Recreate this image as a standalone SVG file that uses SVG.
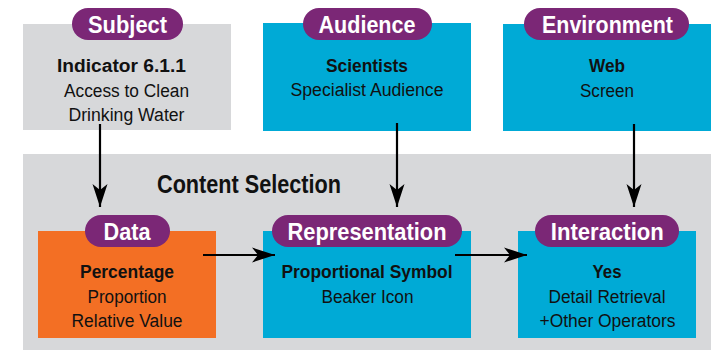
<svg xmlns="http://www.w3.org/2000/svg" width="716" height="350" viewBox="0 0 716 350">
<defs>
<style>
text{font-family:"Liberation Sans",Arial,sans-serif;text-anchor:middle;fill:#111}
.gray{fill:#d7d8da}
.blue{fill:#00aad6}
.orange{fill:#f36f24}
.pill{fill:#7b2776}
.pl{font-size:24px;font-weight:bold;fill:#fff}
.b{font-size:18px;font-weight:bold}
.n{font-size:18px}
.t{font-size:25px;font-weight:bold}
.conn{stroke:#000;stroke-width:2.2;fill:none}
</style>
<marker id="ah" markerUnits="userSpaceOnUse" markerWidth="24" markerHeight="16" viewBox="0 -8 24 16" refX="23" refY="0" orient="auto">
<path d="M0,-7.5 L23,0 L0,7.5 L6,0 Z" fill="#000"/>
</marker>
</defs>
<rect x="0" y="0" width="716" height="350" fill="#fff"/>
<g id="content-selection">
<rect class="gray" x="23" y="154" width="688" height="196"/>
<text class="t" x="249" y="193" textLength="184" lengthAdjust="spacingAndGlyphs">Content Selection</text>
</g>
<g id="subject">
<rect class="gray" x="23" y="24" width="208" height="106"/>
<rect class="pill" x="72" y="8" width="111" height="32" rx="16"/>
<text class="pl" x="127.5" y="32.5" textLength="79" lengthAdjust="spacingAndGlyphs">Subject</text>
<text class="b" x="121.5" y="72" textLength="129" lengthAdjust="spacingAndGlyphs">Indicator 6.1.1</text>
<text class="n" x="126.5" y="96.5" textLength="125" lengthAdjust="spacingAndGlyphs">Access to Clean</text>
<text class="n" x="126.5" y="121" textLength="116" lengthAdjust="spacingAndGlyphs">Drinking Water</text>
</g>
<g id="audience">
<rect class="blue" x="263" y="23" width="208" height="108"/>
<rect class="pill" x="303" y="8" width="129" height="32" rx="16"/>
<text class="pl" x="367" y="32.5" textLength="97" lengthAdjust="spacingAndGlyphs">Audience</text>
<text class="b" x="367" y="72" textLength="82" lengthAdjust="spacingAndGlyphs">Scientists</text>
<text class="n" x="367" y="96" textLength="153" lengthAdjust="spacingAndGlyphs">Specialist Audience</text>
</g>
<g id="environment">
<rect class="blue" x="503" y="24" width="208" height="107"/>
<rect class="pill" x="524" y="8" width="165" height="32" rx="16"/>
<text class="pl" x="607.5" y="32.5" textLength="131" lengthAdjust="spacingAndGlyphs">Environment</text>
<text class="b" x="607" y="72" textLength="36" lengthAdjust="spacingAndGlyphs">Web</text>
<text class="n" x="607" y="96.5" textLength="54" lengthAdjust="spacingAndGlyphs">Screen</text>
</g>
<g id="data">
<rect class="orange" x="38" y="231" width="178" height="107"/>
<rect class="pill" x="85" y="215" width="85" height="32" rx="16"/>
<text class="pl" x="127" y="240" textLength="47" lengthAdjust="spacingAndGlyphs">Data</text>
<text class="b" x="127" y="278" textLength="94" lengthAdjust="spacingAndGlyphs">Percentage</text>
<text class="n" x="127" y="303" textLength="79" lengthAdjust="spacingAndGlyphs">Proportion</text>
<text class="n" x="127" y="327" textLength="111" lengthAdjust="spacingAndGlyphs">Relative Value</text>
</g>
<g id="representation">
<rect class="blue" x="263" y="231" width="208" height="107"/>
<rect class="pill" x="272" y="215" width="190" height="32" rx="16"/>
<text class="pl" x="367" y="240" textLength="159" lengthAdjust="spacingAndGlyphs">Representation</text>
<text class="b" x="367" y="278" textLength="171" lengthAdjust="spacingAndGlyphs">Proportional Symbol</text>
<text class="n" x="367.5" y="303" textLength="92" lengthAdjust="spacingAndGlyphs">Beaker Icon</text>
</g>
<g id="interaction">
<rect class="blue" x="518" y="231" width="178" height="107"/>
<rect class="pill" x="535" y="215" width="144" height="32" rx="16"/>
<text class="pl" x="607.3" y="240" textLength="113" lengthAdjust="spacingAndGlyphs">Interaction</text>
<text class="b" x="607" y="278" textLength="29" lengthAdjust="spacingAndGlyphs">Yes</text>
<text class="n" x="607" y="303" textLength="117" lengthAdjust="spacingAndGlyphs">Detail Retrieval</text>
<text class="n" x="607.5" y="327" textLength="136" lengthAdjust="spacingAndGlyphs">+Other Operators</text>
</g>
<g id="connectors">
<line class="conn" x1="100" y1="124" x2="100" y2="207" marker-end="url(#ah)"/>
<line class="conn" x1="397" y1="123" x2="397" y2="207" marker-end="url(#ah)"/>
<line class="conn" x1="634" y1="124" x2="634" y2="207" marker-end="url(#ah)"/>
<line class="conn" x1="203" y1="255" x2="275" y2="255" marker-end="url(#ah)"/>
<line class="conn" x1="455" y1="255" x2="527" y2="255" marker-end="url(#ah)"/>
</g>
</svg>
